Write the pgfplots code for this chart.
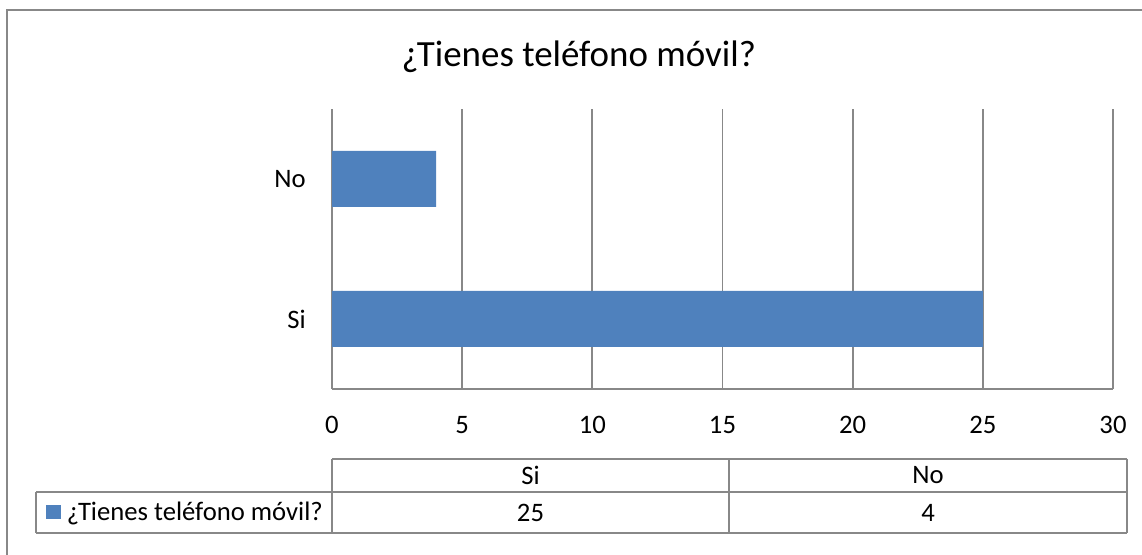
\documentclass[border=0pt]{standalone}
\usepackage{pgfplots}
\pgfplotsset{compat=1.18}
\usepackage{fontspec}
\setmainfont{Carlito}
\definecolor{barblue}{HTML}{4F81BD}
\definecolor{linegray}{HTML}{888888}
\begin{document}
\begin{tikzpicture}[x=0.75pt,y=0.75pt]
\clip (0,0) rectangle (1142,555);
\useasboundingbox (0,0) rectangle (1142,555);
% outer chart border (only left and top visible)
\draw[linegray, line width=1.5pt] (7,-5) -- (7,544.5) -- (1150,544.5);
\begin{axis}[
  at={(249pt,124.5pt)}, anchor=south west,
  scale only axis, width=585.75pt, height=210pt,
  xbar, bar width=0.4,
  xmin=0, xmax=30, ymin=-0.5, ymax=1.5,
  xtick={0,5,10,15,20,25,30},
  ytick={0,1}, yticklabels={Si,No},
  axis x line*=bottom, axis y line*=left,
  xmajorgrids,
  grid style={linegray, line width=1.3pt},
  axis line style={linegray, line width=1.3pt, -},
  major tick length=0pt,
  tick label style={font=\fontsize{20}{24}\selectfont},
  xticklabel style={anchor=center, yshift=-27pt, inner sep=0pt},
  yticklabel style={anchor=east, xshift=-19.5pt, inner sep=0pt},
  /pgf/number format/assume math mode=true,
  title={¿Tienes teléfono móvil?},
  title style={at={(axis description cs:0.316,1.122)}, anchor=base,
    font=\fontsize{27.7}{33}\selectfont, inner sep=0pt},
  legend style={at={(axis description cs:-0.3662,-0.4393)}, anchor=west,
    draw=none, fill=none, inner sep=0pt, outer sep=0pt,
    column sep=4.5pt, nodes={inner sep=0pt},
    font=\fontsize{20}{24}\selectfont},
  legend image code/.code={\fill[barblue] (0pt,-5.4pt) rectangle (11.25pt,5.4pt);},
]
\addplot[fill=barblue, draw=none] coordinates {(25,0) (4,1)};
\addlegendentry{¿Tienes teléfono móvil?}
\end{axis}
% data table below the chart
\begin{scope}[linegray, line width=1.3pt]
\draw (332,96) -- (1127,96);
\draw (36,63) -- (1127,63);
\draw (36,22) -- (1127,22);
\draw (36,63) -- (36,22);
\draw (332,96) -- (332,22);
\draw (729,96) -- (729,22);
\draw (1127,96) -- (1127,22);
\end{scope}
\begin{scope}[font=\fontsize{20}{24}\selectfont, inner sep=0pt]
\node at (530.5,79.5) {Si};
\node at (928,79.5) {No};
\node at (530.5,42.5) {25};
\node at (928,42.5) {4};
\end{scope}
\end{tikzpicture}
\end{document}
